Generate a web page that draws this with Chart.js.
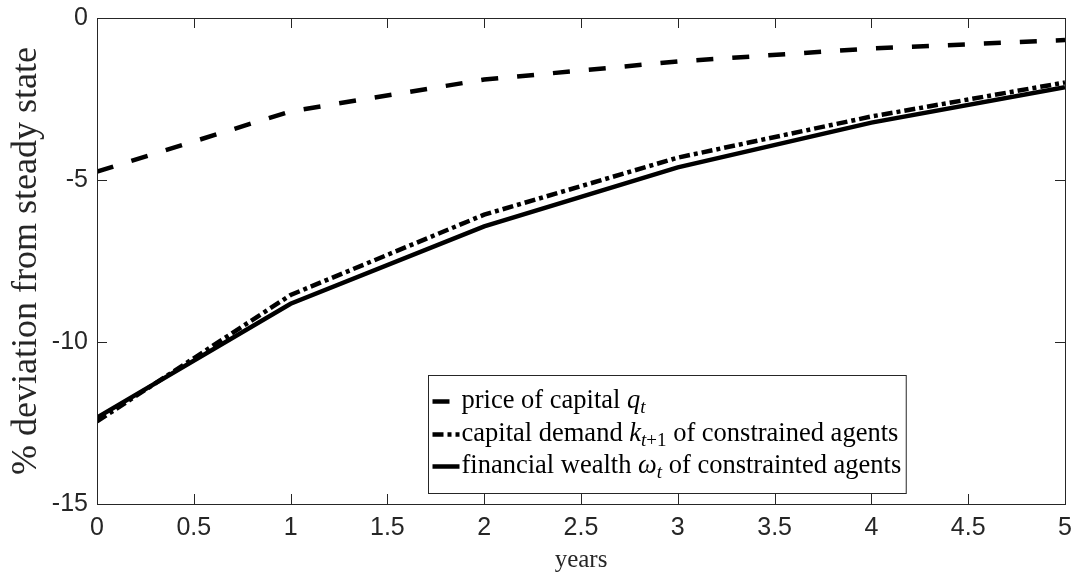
<!DOCTYPE html>
<html>
<head>
<meta charset="utf-8">
<script src="https://cdn.jsdelivr.net/npm/chart.js@4/dist/chart.umd.min.js"></script>
<style>
	html, body { margin: 0; padding: 0; background: #fff; }
	#wrap { width: 1075px; height: 577px; }
</style>
</head>
<body>
<div id="wrap"><canvas id="canvas-element"></canvas></div>
<script>
const kYears = [0, 1, 2, 3, 4, 5];
const kPriceCapital = [-4.74, -2.88, -1.9, -1.34, -0.94, -0.68];
const kCapitalDemand = [-12.45, -8.55, -6.07, -4.31, -3.04, -1.99];
const kFinancialWealth = [-12.33, -8.82, -6.43, -4.61, -3.23, -2.14];

// legend labels as rich text pieces: i = italic, sub = subscript
const kLegendLabels = [
	[{t: "price of capital "}, {t: "q", i: 1}, {t: "t", i: 1, sub: 1}],
	[{t: "capital demand "}, {t: "k", i: 1}, {t: "t", i: 1, sub: 1}, {t: "+1", sub: 1}, {t: " of constrained agents"}],
	[{t: "financial wealth "}, {t: "ω", i: 1}, {t: "t", i: 1, sub: 1}, {t: " of constrainted agents"}]
];

const kAxisCol = "#262626";
const kSans = "'Liberation Sans', Arial, sans-serif";
const kSerif = "'Liberation Serif', 'Times New Roman', serif";
const kLegendSize = 26.5;

function toPoints(values) {
	return values.map((v, i) => ({x: kYears[i], y: v}));
}

// box round the plot and inward ticks on all four sides
const framePlugin = {
	id: "frame",
	afterDatasetsDraw(chart) {
		const {ctx, chartArea: a, scales} = chart;
		ctx.save();
		ctx.strokeStyle = kAxisCol;
		ctx.lineWidth = 1;
		ctx.strokeRect(a.left + 0.5, a.top + 0.5, a.right - a.left, a.bottom - a.top);
		ctx.beginPath();
		for (const t of scales.x.ticks) {
			const px = Math.round(scales.x.getPixelForValue(t.value)) + 0.5;
			ctx.moveTo(px, a.bottom); ctx.lineTo(px, a.bottom - 10);
			ctx.moveTo(px, a.top); ctx.lineTo(px, a.top + 10);
		}
		for (const t of scales.y.ticks) {
			const py = Math.round(scales.y.getPixelForValue(t.value)) + 0.5;
			ctx.moveTo(a.left, py); ctx.lineTo(a.left + 10, py);
			ctx.moveTo(a.right, py); ctx.lineTo(a.right - 10, py);
		}
		ctx.stroke();
		ctx.restore();
	}
};

function pieceFont(p) {
	const size = p.sub ? Math.round(kLegendSize * 0.7) : kLegendSize;
	return `${p.i ? "italic " : ""}${size}px ${kSerif}`;
}

function labelWidth(ctx, pieces) {
	let w = 0;
	for (const p of pieces) {
		ctx.font = pieceFont(p);
		w += ctx.measureText(p.t).width;
	}
	return w;
}

const legendPlugin = {
	id: "richLegend",
	afterDraw(chart) {
		const {ctx, chartArea: a} = chart;
		const left = a.left + 331.5;
		const top = a.top + 357.5;
		const sampleW = 27;
		let maxW = 0;
		for (const lab of kLegendLabels) maxW = Math.max(maxW, labelWidth(ctx, lab));
		const w = 4 + sampleW + 2 + maxW + 5;
		const h = 118;
		ctx.save();
		ctx.fillStyle = "#fff";
		ctx.fillRect(left, top, w, h);
		ctx.strokeStyle = kAxisCol;
		ctx.lineWidth = 1;
		ctx.strokeRect(left, top, w, h);
		const baselines = [32, 65, 97];
		chart.data.datasets.forEach((ds, k) => {
			const base = top + baselines[k];
			ctx.strokeStyle = ds.borderColor;
			ctx.lineWidth = ds.borderWidth;
			ctx.setLineDash(ds.borderDash || []);
			ctx.beginPath();
			ctx.moveTo(left + 4, base - 6);
			ctx.lineTo(left + 4 + sampleW, base - 6);
			ctx.stroke();
			ctx.setLineDash([]);
			let x = left + 4 + sampleW + 2;
			ctx.fillStyle = "#000";
			ctx.textBaseline = "alphabetic";
			for (const p of kLegendLabels[k]) {
				ctx.font = pieceFont(p);
				ctx.fillText(p.t, x, p.sub ? base + 5 : base);
				x += ctx.measureText(p.t).width;
			}
		});
		ctx.restore();
	}
};

function renderChart() {
	const context = document.getElementById("canvas-element").getContext("2d");
	const lineBase = {
		borderColor: "#000",
		backgroundColor: "transparent",
		borderWidth: 4.5,
		borderCapStyle: "butt",
		pointRadius: 0,
		tension: 0,
		fill: false
	};

	return new Chart(context, {
		type: "line",
		data: {
			datasets: [
				{...lineBase, label: "price of capital", data: toPoints(kPriceCapital), borderDash: [17, 19], order: 3},
				{...lineBase, label: "capital demand", data: toPoints(kCapitalDemand), borderDash: [11, 4, 4, 4], order: 2},
				{...lineBase, label: "financial wealth", data: toPoints(kFinancialWealth), order: 1}
			]
		},
		options: {
			animation: false,
			responsive: true,
			maintainAspectRatio: false,
			layout: {padding: {top: 18, right: 10, left: 0, bottom: 0}},
			plugins: {legend: {display: false}, tooltip: {enabled: false}},
			scales: {
				x: {
					type: "linear",
					min: 0,
					max: 5,
					afterFit: (s) => {
						s.height = 73;
						s.paddingLeft = 0;
						s.paddingRight = 0;
					},
					grid: {display: false, drawTicks: false},
					border: {display: false},
					ticks: {stepSize: 0.5, padding: 9, color: kAxisCol, font: {family: kSans, size: 25}, callback: (v) => String(v)},
					title: {display: true, text: "years", color: kAxisCol, padding: {bottom: 2, top: 0}, font: {family: kSerif, size: 25}}
				},
				y: {
					min: -15,
					max: 0,
					afterFit: (s) => {
						s.width = 97;
						s.paddingTop = 0;
						s.paddingBottom = 0;
					},
					grid: {display: false, drawTicks: false},
					border: {display: false},
					ticks: {stepSize: 5, padding: 9, color: kAxisCol, font: {family: kSans, size: 25}},
					title: {display: true, text: "% deviation from steady state", color: kAxisCol, padding: {top: 5, bottom: 0}, font: {family: kSerif, size: 36}}
				}
			}
		},
		plugins: [framePlugin, legendPlugin]
	});
}

// main
renderChart();
</script>
</body>
</html>
